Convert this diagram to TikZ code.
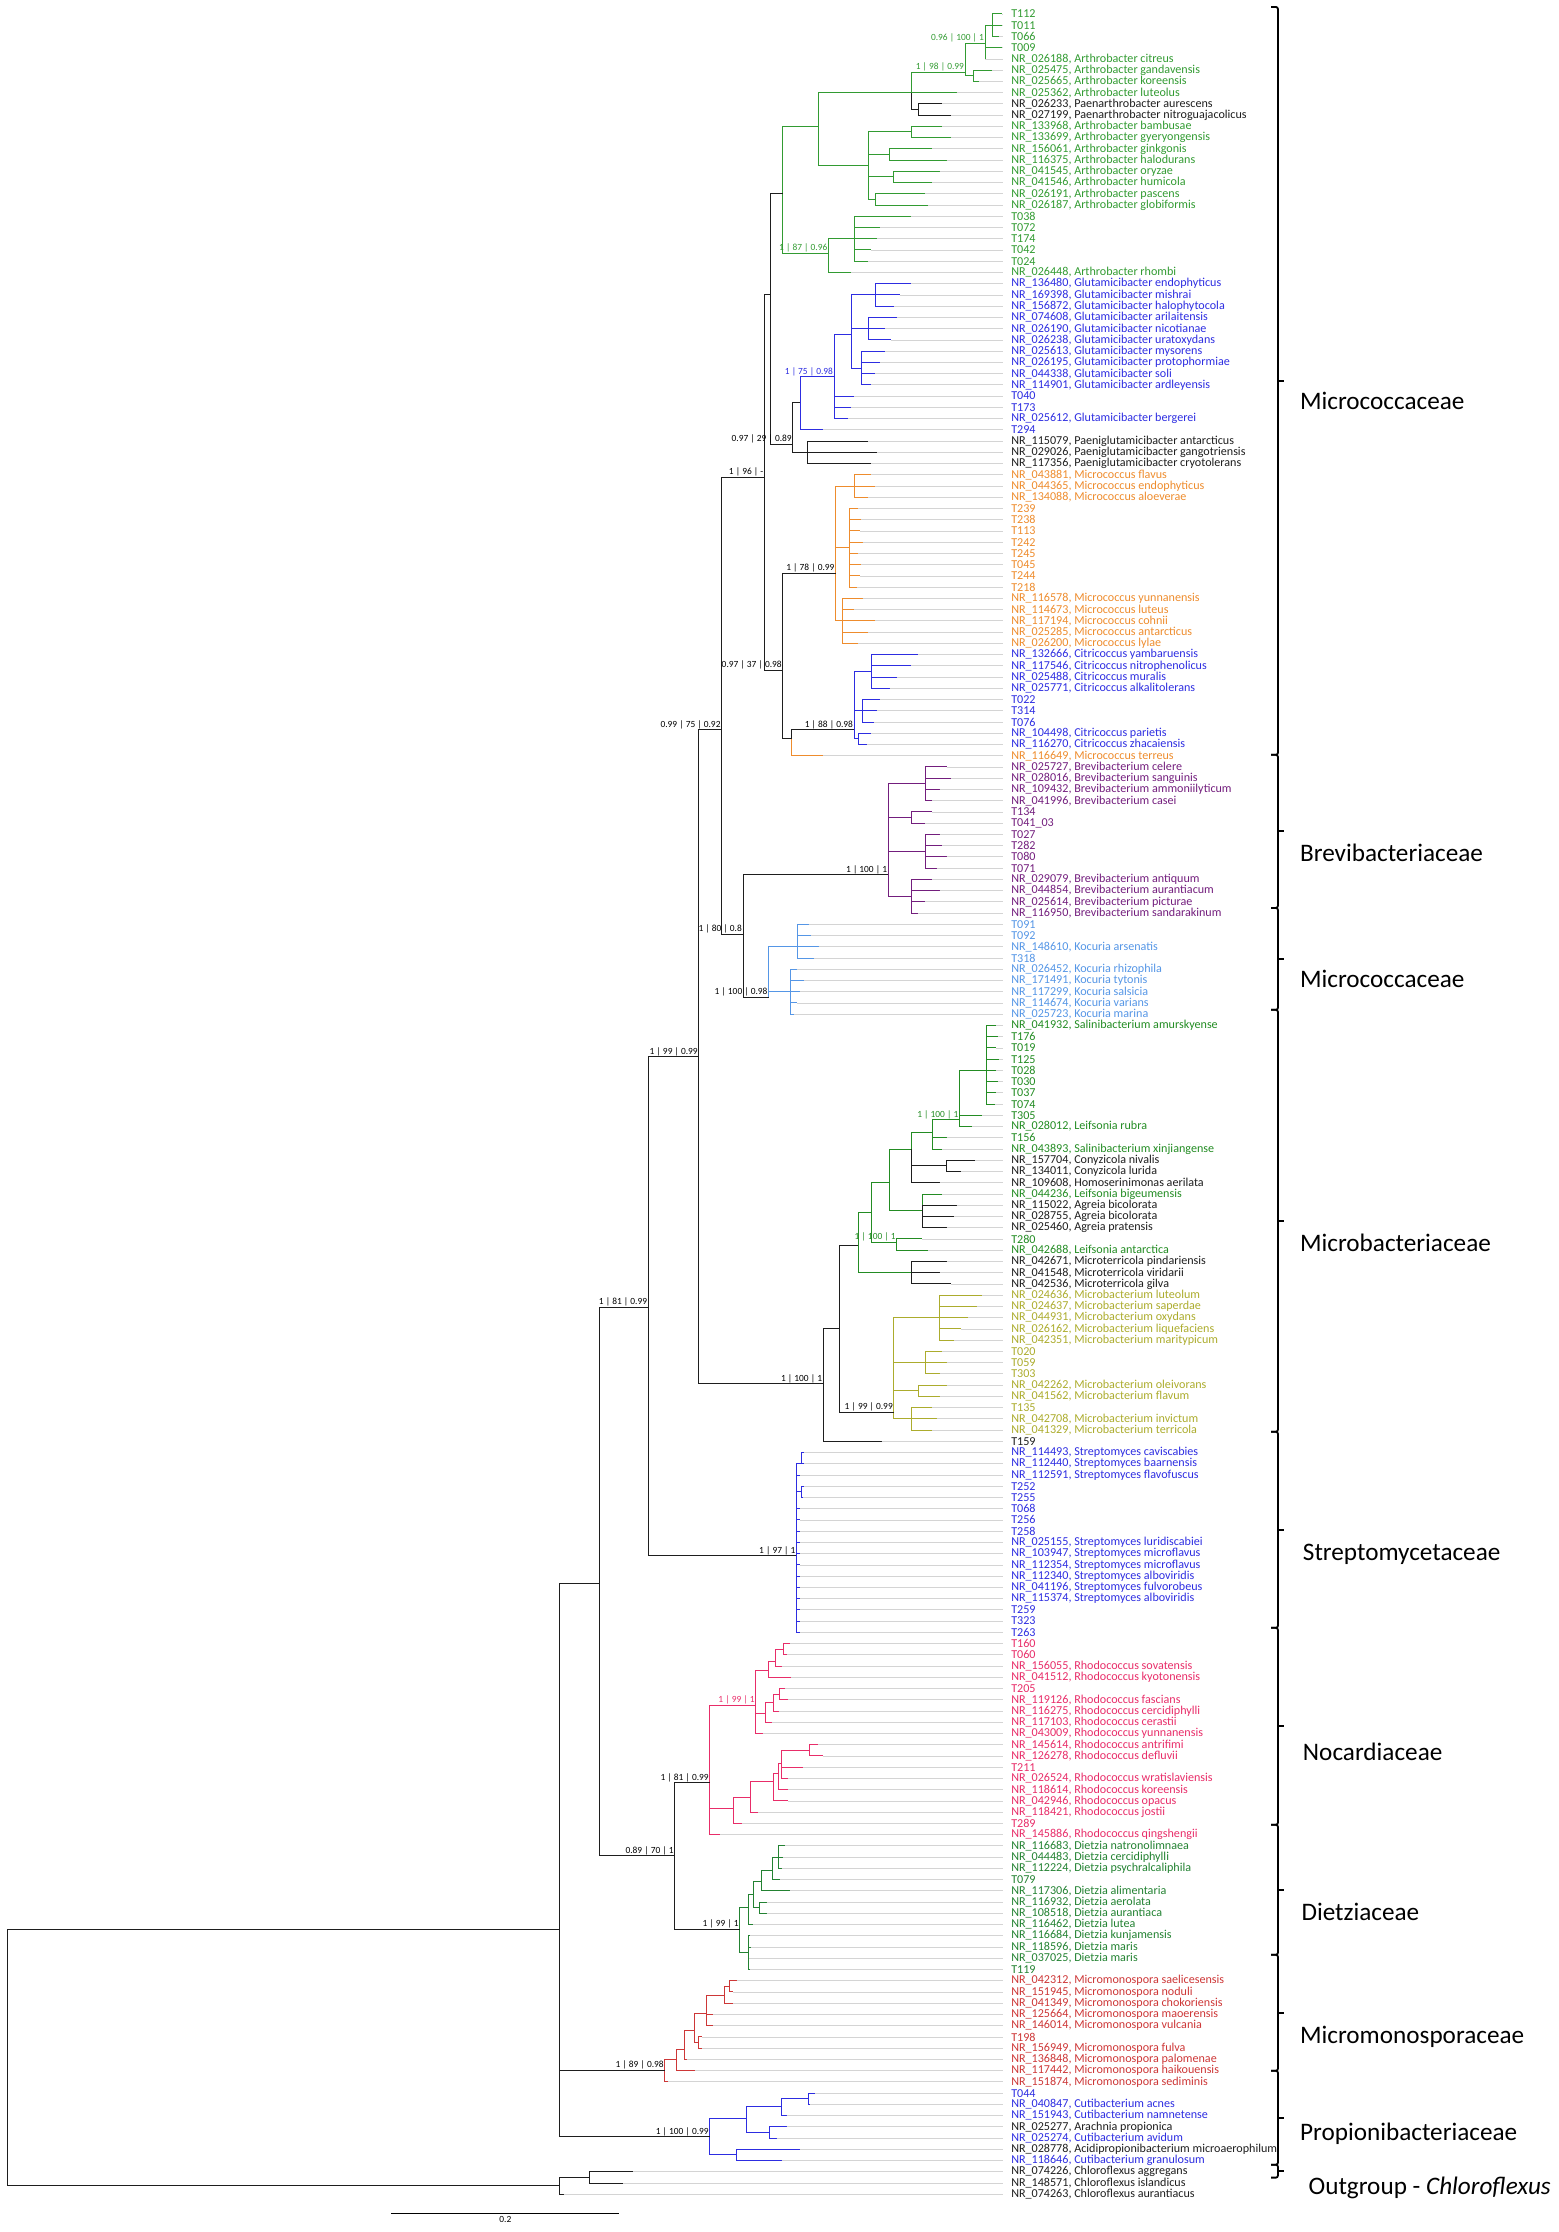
\documentclass[tikz,border=0pt]{standalone}
\usepackage{fontspec}
\setmainfont{Carlito}
\usepackage{tikz}
\usetikzlibrary{calc}

\definecolor{cArth}{RGB}{50,155,50}
\definecolor{cBlue}{RGB}{45,45,225}
\definecolor{cMicro}{RGB}{238,140,45}
\definecolor{cBrevi}{RGB}{115,30,125}
\definecolor{cKocu}{RGB}{85,150,230}
\definecolor{cLeif}{RGB}{35,140,35}
\definecolor{cMbac}{RGB}{172,172,45}
\definecolor{cRhodo}{RGB}{232,45,105}
\definecolor{cDietz}{RGB}{35,130,50}
\definecolor{cMmono}{RGB}{205,55,55}
\definecolor{cBlk}{RGB}{30,30,30}

\tikzset{
  br/.style={line width=0.5pt},
  guide/.style={line width=0.4pt, draw=black!17},
  leaf/.style={anchor=west, inner xsep=4pt, inner ysep=0pt, font=\fontsize{6.05}{6}\selectfont},
  boot/.style={anchor=south east, inner sep=0.4pt, font=\fontsize{4.7}{5}\selectfont},
  fam/.style={anchor=west, inner sep=0pt, font=\fontsize{12.6}{14}\selectfont},
  fbrace/.style={line width=0.9pt, rounded corners=1pt},
}

% family bracket: start row, end row
\newcommand{\fambrace}[2]{%
  \draw[fbrace] (893,#1) -- (897.7,#1) -- (897.7,#2) -- (893,#2);
  \draw[fbrace] (897.7,{(#1+#2)/2}) -- (902,{(#1+#2)/2});}

\begin{document}
\begin{tikzpicture}[x=0.71185pt, y=-5.6199pt]
\useasboundingbox (0,-0.245) rectangle (1095,198.36);

% leaf labels
\foreach \i/\c/\t in {
 1/cArth/T112, 2/cArth/T011, 3/cArth/T066, 4/cArth/T009,
 5/cArth/{NR\_026188, Arthrobacter citreus},
 6/cArth/{NR\_025475, Arthrobacter gandavensis},
 7/cArth/{NR\_025665, Arthrobacter koreensis},
 8/cArth/{NR\_025362, Arthrobacter luteolus},
 9/cBlk/{NR\_026233, Paenarthrobacter aurescens},
 10/cBlk/{NR\_027199, Paenarthrobacter nitroguajacolicus},
 11/cArth/{NR\_133968, Arthrobacter bambusae},
 12/cArth/{NR\_133699, Arthrobacter gyeryongensis},
 13/cArth/{NR\_156061, Arthrobacter ginkgonis},
 14/cArth/{NR\_116375, Arthrobacter halodurans},
 15/cArth/{NR\_041545, Arthrobacter oryzae},
 16/cArth/{NR\_041546, Arthrobacter humicola},
 17/cArth/{NR\_026191, Arthrobacter pascens},
 18/cArth/{NR\_026187, Arthrobacter globiformis},
 19/cArth/T038, 20/cArth/T072, 21/cArth/T174, 22/cArth/T042, 23/cArth/T024,
 24/cArth/{NR\_026448, Arthrobacter rhombi},
 25/cBlue/{NR\_136480, Glutamicibacter endophyticus},
 26/cBlue/{NR\_169398, Glutamicibacter mishrai},
 27/cBlue/{NR\_156872, Glutamicibacter halophytocola},
 28/cBlue/{NR\_074608, Glutamicibacter arilaitensis},
 29/cBlue/{NR\_026190, Glutamicibacter nicotianae},
 30/cBlue/{NR\_026238, Glutamicibacter uratoxydans},
 31/cBlue/{NR\_025613, Glutamicibacter mysorens},
 32/cBlue/{NR\_026195, Glutamicibacter protophormiae},
 33/cBlue/{NR\_044338, Glutamicibacter soli},
 34/cBlue/{NR\_114901, Glutamicibacter ardleyensis},
 35/cBlue/T040, 36/cBlue/T173,
 37/cBlue/{NR\_025612, Glutamicibacter bergerei},
 38/cBlue/T294,
 39/cBlk/{NR\_115079, Paeniglutamicibacter antarcticus},
 40/cBlk/{NR\_029026, Paeniglutamicibacter gangotriensis},
 41/cBlk/{NR\_117356, Paeniglutamicibacter cryotolerans},
 42/cMicro/{NR\_043881, Micrococcus flavus},
 43/cMicro/{NR\_044365, Micrococcus endophyticus},
 44/cMicro/{NR\_134088, Micrococcus aloeverae},
 45/cMicro/T239, 46/cMicro/T238, 47/cMicro/T113, 48/cMicro/T242,
 49/cMicro/T245, 50/cMicro/T045, 51/cMicro/T244, 52/cMicro/T218,
 53/cMicro/{NR\_116578, Micrococcus yunnanensis},
 54/cMicro/{NR\_114673, Micrococcus luteus},
 55/cMicro/{NR\_117194, Micrococcus cohnii},
 56/cMicro/{NR\_025285, Micrococcus antarcticus},
 57/cMicro/{NR\_026200, Micrococcus lylae},
 58/cBlue/{NR\_132666, Citricoccus yambaruensis},
 59/cBlue/{NR\_117546, Citricoccus nitrophenolicus},
 60/cBlue/{NR\_025488, Citricoccus muralis},
 61/cBlue/{NR\_025771, Citricoccus alkalitolerans},
 62/cBlue/T022, 63/cBlue/T314, 64/cBlue/T076,
 65/cBlue/{NR\_104498, Citricoccus parietis},
 66/cBlue/{NR\_116270, Citricoccus zhacaiensis},
 67/cMicro/{NR\_116649, Micrococcus terreus},
 68/cBrevi/{NR\_025727, Brevibacterium celere},
 69/cBrevi/{NR\_028016, Brevibacterium sanguinis},
 70/cBrevi/{NR\_109432, Brevibacterium ammoniilyticum},
 71/cBrevi/{NR\_041996, Brevibacterium casei},
 72/cBrevi/T134, 73/cBrevi/T041\_03, 74/cBrevi/T027, 75/cBrevi/T282,
 76/cBrevi/T080, 77/cBrevi/T071,
 78/cBrevi/{NR\_029079, Brevibacterium antiquum},
 79/cBrevi/{NR\_044854, Brevibacterium aurantiacum},
 80/cBrevi/{NR\_025614, Brevibacterium picturae},
 81/cBrevi/{NR\_116950, Brevibacterium sandarakinum},
 82/cKocu/T091, 83/cKocu/T092,
 84/cKocu/{NR\_148610, Kocuria arsenatis},
 85/cKocu/T318,
 86/cKocu/{NR\_026452, Kocuria rhizophila},
 87/cKocu/{NR\_171491, Kocuria tytonis},
 88/cKocu/{NR\_117299, Kocuria salsicia},
 89/cKocu/{NR\_114674, Kocuria varians},
 90/cKocu/{NR\_025723, Kocuria marina},
 91/cLeif/{NR\_041932, Salinibacterium amurskyense},
 92/cLeif/T176, 93/cLeif/T019, 94/cLeif/T125, 95/cLeif/T028,
 96/cLeif/T030, 97/cLeif/T037, 98/cLeif/T074, 99/cLeif/T305,
 100/cLeif/{NR\_028012, Leifsonia rubra},
 101/cLeif/T156,
 102/cLeif/{NR\_043893, Salinibacterium xinjiangense},
 103/cBlk/{NR\_157704, Conyzicola nivalis},
 104/cBlk/{NR\_134011, Conyzicola lurida},
 105/cBlk/{NR\_109608, Homoserinimonas aerilata},
 106/cLeif/{NR\_044236, Leifsonia bigeumensis},
 107/cBlk/{NR\_115022, Agreia bicolorata},
 108/cBlk/{NR\_028755, Agreia bicolorata},
 109/cBlk/{NR\_025460, Agreia pratensis},
 110/cLeif/T280,
 111/cLeif/{NR\_042688, Leifsonia antarctica},
 112/cBlk/{NR\_042671, Microterricola pindariensis},
 113/cBlk/{NR\_041548, Microterricola viridarii},
 114/cBlk/{NR\_042536, Microterricola gilva},
 115/cMbac/{NR\_024636, Microbacterium luteolum},
 116/cMbac/{NR\_024637, Microbacterium saperdae},
 117/cMbac/{NR\_044931, Microbacterium oxydans},
 118/cMbac/{NR\_026162, Microbacterium liquefaciens},
 119/cMbac/{NR\_042351, Microbacterium maritypicum},
 120/cMbac/T020, 121/cMbac/T059, 122/cMbac/T303,
 123/cMbac/{NR\_042262, Microbacterium oleivorans},
 124/cMbac/{NR\_041562, Microbacterium flavum},
 125/cMbac/T135,
 126/cMbac/{NR\_042708, Microbacterium invictum},
 127/cMbac/{NR\_041329, Microbacterium terricola},
 128/cBlk/T159,
 129/cBlue/{NR\_114493, Streptomyces caviscabies},
 130/cBlue/{NR\_112440, Streptomyces baarnensis},
 131/cBlue/{NR\_112591, Streptomyces flavofuscus},
 132/cBlue/T252, 133/cBlue/T255, 134/cBlue/T068, 135/cBlue/T256, 136/cBlue/T258,
 137/cBlue/{NR\_025155, Streptomyces luridiscabiei},
 138/cBlue/{NR\_103947, Streptomyces microflavus},
 139/cBlue/{NR\_112354, Streptomyces microflavus},
 140/cBlue/{NR\_112340, Streptomyces alboviridis},
 141/cBlue/{NR\_041196, Streptomyces fulvorobeus},
 142/cBlue/{NR\_115374, Streptomyces alboviridis},
 143/cBlue/T259, 144/cBlue/T323, 145/cBlue/T263,
 146/cRhodo/T160, 147/cRhodo/T060,
 148/cRhodo/{NR\_156055, Rhodococcus sovatensis},
 149/cRhodo/{NR\_041512, Rhodococcus kyotonensis},
 150/cRhodo/T205,
 151/cRhodo/{NR\_119126, Rhodococcus fascians},
 152/cRhodo/{NR\_116275, Rhodococcus cercidiphylli},
 153/cRhodo/{NR\_117103, Rhodococcus cerastii},
 154/cRhodo/{NR\_043009, Rhodococcus yunnanensis},
 155/cRhodo/{NR\_145614, Rhodococcus antrifimi},
 156/cRhodo/{NR\_126278, Rhodococcus defluvii},
 157/cRhodo/T211,
 158/cRhodo/{NR\_026524, Rhodococcus wratislaviensis},
 159/cRhodo/{NR\_118614, Rhodococcus koreensis},
 160/cRhodo/{NR\_042946, Rhodococcus opacus},
 161/cRhodo/{NR\_118421, Rhodococcus jostii},
 162/cRhodo/T289,
 163/cRhodo/{NR\_145886, Rhodococcus qingshengii},
 164/cDietz/{NR\_116683, Dietzia natronolimnaea},
 165/cDietz/{NR\_044483, Dietzia cercidiphylli},
 166/cDietz/{NR\_112224, Dietzia psychralcaliphila},
 167/cDietz/T079,
 168/cDietz/{NR\_117306, Dietzia alimentaria},
 169/cDietz/{NR\_116932, Dietzia aerolata},
 170/cDietz/{NR\_108518, Dietzia aurantiaca},
 171/cDietz/{NR\_116462, Dietzia lutea},
 172/cDietz/{NR\_116684, Dietzia kunjamensis},
 173/cDietz/{NR\_118596, Dietzia maris},
 174/cDietz/{NR\_037025, Dietzia maris},
 175/cDietz/T119,
 176/cMmono/{NR\_042312, Micromonospora saelicesensis},
 177/cMmono/{NR\_151945, Micromonospora noduli},
 178/cMmono/{NR\_041349, Micromonospora chokoriensis},
 179/cMmono/{NR\_125664, Micromonospora maoerensis},
 180/cMmono/{NR\_146014, Micromonospora vulcania},
 181/cMmono/T198,
 182/cMmono/{NR\_156949, Micromonospora fulva},
 183/cMmono/{NR\_136848, Micromonospora palomenae},
 184/cMmono/{NR\_117442, Micromonospora haikouensis},
 185/cMmono/{NR\_151874, Micromonospora sediminis},
 186/cBlue/T044,
 187/cBlue/{NR\_040847, Cutibacterium acnes},
 188/cBlue/{NR\_151943, Cutibacterium namnetense},
 189/cBlk/{NR\_025277, Arachnia propionica},
 190/cBlue/{NR\_025274, Cutibacterium avidum},
 191/cBlk/{NR\_028778, Acidipropionibacterium microaerophilum},
 192/cBlue/{NR\_118646, Cutibacterium granulosum},
 193/cBlk/{NR\_074226, Chloroflexus aggregans},
 194/cBlk/{NR\_148571, Chloroflexus islandicus},
 195/cBlk/{NR\_074263, Chloroflexus aurantiacus}}
  \node[leaf,text=\c] (t\i) at (704.5,\i) {\t};

% internal nodes (x, row)
\coordinate (a1a) at (697,2);    \coordinate (a1) at (692,3.6);
\coordinate (gk) at (684,6.5);   \coordinate (A1b) at (678,6.2);
\coordinate (pa) at (645,9.5);   \coordinate (A1a) at (640,8);
\coordinate (p11) at (640,11.5); \coordinate (p13) at (625,13.5);
\coordinate (p15) at (628,15.5); \coordinate (p17) at (615,17.5);
\coordinate (A1d) at (610,14.5); \coordinate (A1c) at (575,11);
\coordinate (tc) at (600,21);    \coordinate (A2) at (582,22.3);
\coordinate (A0) at (550,17);
\coordinate (g1) at (615,26);    \coordinate (g2) at (610,29);
\coordinate (g3) at (605,32.5);  \coordinate (G1a) at (598,29.5);
\coordinate (G1) at (586,33.3);  \coordinate (G2) at (562,35.6);
\coordinate (G3) at (567,40);    \coordinate (G0) at (557,39.3);
\coordinate (X) at (541,26);
\coordinate (m1) at (600,43);    \coordinate (m2) at (597,48.5);
\coordinate (m3) at (592,55);    \coordinate (M0) at (587,50.8);
\coordinate (c1) at (612,59.5);  \coordinate (c2) at (606,63);
\coordinate (c3) at (603,65.5);  \coordinate (C0) at (600,64.7);
\coordinate (Ct) at (556,65.5);  \coordinate (Y) at (550,59.4);
\coordinate (n6) at (537,42.2);
\coordinate (b1) at (650,69.5);  \coordinate (b2) at (640,72.5);
\coordinate (b3) at (650,75.5);  \coordinate (b4) at (640,79.5);
\coordinate (B0) at (624,77.6);
\coordinate (k1) at (560,84);    \coordinate (k2) at (555,88);
\coordinate (K0) at (540,88.5);
\coordinate (n12) at (522,82.9); \coordinate (n9) at (507,64.7);
\coordinate (s1) at (693,95);    \coordinate (s2) at (674,99.4);
\coordinate (s3) at (655,100.5); \coordinate (cz) at (665,103.5);
\coordinate (s4) at (640,102);   \coordinate (ag) at (648,107.5);
\coordinate (MG3) at (625,105);  \coordinate (lf) at (630,110.3);
\coordinate (MG2) at (612,107.6);\coordinate (mt) at (640,113);
\coordinate (MG1) at (603,110.6);
\coordinate (mb1) at (660,117);  \coordinate (mb2) at (650,121);
\coordinate (mb3) at (645,123.5);\coordinate (mb4) at (640,126);
\coordinate (MB0) at (628,125.4);\coordinate (W) at (589.5,118);
\coordinate (MF) at (578.3,122.9);
\coordinate (n14) at (491,93.8);
\coordinate (sA) at (563,130);   \coordinate (sB) at (563,132.5);
\coordinate (S0) at (559.6,138.2);
\coordinate (n17) at (455.4,116.1);
\coordinate (rA) at (550.2,146.5); \coordinate (rB) at (545.1,147.6);
\coordinate (rC) at (539.7,148.4); \coordinate (rO) at (547.9,150.5);
\coordinate (rN) at (543.2,151.2); \coordinate (rM) at (538,152.2);
\coordinate (R1) at (531,151.5);
\coordinate (r4) at (568.5,155.5); \coordinate (r9) at (549.1,156.7);
\coordinate (r8b) at (546.7,157.6);\coordinate (r8) at (543.2,158.3);
\coordinate (r7) at (527.3,159.7); \coordinate (r6) at (515.1,160.7);
\coordinate (R0) at (498.7,158.4);
\coordinate (d1) at (546.7,165);   \coordinate (d2) at (542.7,166.2);
\coordinate (d3) at (535,167.2);   \coordinate (d4) at (533.8,169.5);
\coordinate (d5) at (529.1,168.3); \coordinate (d6) at (525.6,169.5);
\coordinate (d7) at (525.6,173.5); \coordinate (D0) at (519.8,171.4);
\coordinate (ND) at (474.1,164.9);
\coordinate (mmA) at (512.7,176.5);\coordinate (mmB) at (509.2,177.3);
\coordinate (mmC) at (496.4,178.9);\coordinate (mmD) at (490.5,181.5);
\coordinate (mmE) at (488.2,180.4);\coordinate (mmF) at (481.1,182.1);
\coordinate (mmG) at (475.3,183);  \coordinate (Mm0) at (467.1,184);
\coordinate (p1a) at (567.7,186.5);\coordinate (p1) at (549.1,187.2);
\coordinate (p2) at (540.4,189.5); \coordinate (p3) at (524.4,188.3);
\coordinate (p4) at (517.4,191.5); \coordinate (P0) at (498.7,189.9);
\coordinate (Q) at (421,140.65);   \coordinate (I) at (393.3,171.4);
\coordinate (O1) at (414.4,193.5); \coordinate (O) at (393.3,194.2);
\coordinate (root) at (5,182.8);

% leaves: tips hang from their parent node
\foreach \i/\x in {1/704,2/704,3/702} \draw[br,cArth] (a1a) |- (\x,\i) coordinate (l\i);
\foreach \i/\x in {4/704,5/692} \draw[br,cArth] (a1) |- (\x,\i) coordinate (l\i);
\foreach \i/\x in {6/697,7/688} \draw[br,cArth] (gk) |- (\x,\i) coordinate (l\i);
\foreach \i/\x in {8/672} \draw[br,cArth] (A1a) |- (\x,\i) coordinate (l\i);
\foreach \i/\x in {9/662,10/668} \draw[br,cBlk] (pa) |- (\x,\i) coordinate (l\i);
\foreach \i/\x in {11/662,12/668} \draw[br,cArth] (p11) |- (\x,\i) coordinate (l\i);
\foreach \i/\x in {13/655,14/665} \draw[br,cArth] (p13) |- (\x,\i) coordinate (l\i);
\foreach \i/\x in {15/660,16/655} \draw[br,cArth] (p15) |- (\x,\i) coordinate (l\i);
\foreach \i/\x in {17/650,18/652} \draw[br,cArth] (p17) |- (\x,\i) coordinate (l\i);
\foreach \i/\x in {19/640,20/618,21/616,22/612,23/610} \draw[br,cArth] (tc) |- (\x,\i) coordinate (l\i);
\foreach \i/\x in {24/598} \draw[br,cArth] (A2) |- (\x,\i) coordinate (l\i);
\foreach \i/\x in {25/640,26/632,27/628} \draw[br,cBlue] (g1) |- (\x,\i) coordinate (l\i);
\foreach \i/\x in {28/630,29/622,30/626} \draw[br,cBlue] (g2) |- (\x,\i) coordinate (l\i);
\foreach \i/\x in {31/622,32/618,33/615,34/612} \draw[br,cBlue] (g3) |- (\x,\i) coordinate (l\i);
\foreach \i/\x in {35/600,36/598,37/596} \draw[br,cBlue] (G1) |- (\x,\i) coordinate (l\i);
\foreach \i/\x in {38/578} \draw[br,cBlue] (G2) |- (\x,\i) coordinate (l\i);
\foreach \i/\x in {39/610,40/616,41/612} \draw[br,cBlk] (G3) |- (\x,\i) coordinate (l\i);
\foreach \i/\x in {42/612,43/615,44/610} \draw[br,cMicro] (m1) |- (\x,\i) coordinate (l\i);
\foreach \i/\x in {45/603,46/605,47/604,48/606,49/603,50/605,51/604,52/602} \draw[br,cMicro] (m2) |- (\x,\i) coordinate (l\i);
\foreach \i/\x in {53/606,54/600,55/615,56/610,57/603} \draw[br,cMicro] (m3) |- (\x,\i) coordinate (l\i);
\foreach \i/\x in {58/645,59/640,60/630,61/625} \draw[br,cBlue] (c1) |- (\x,\i) coordinate (l\i);
\foreach \i/\x in {62/618,63/616,64/614} \draw[br,cBlue] (c2) |- (\x,\i) coordinate (l\i);
\foreach \i/\x in {65/612,66/609} \draw[br,cBlue] (c3) |- (\x,\i) coordinate (l\i);
\foreach \i/\x in {67/578} \draw[br,cMicro] (Ct) |- (\x,\i) coordinate (l\i);
\foreach \i/\x in {68/665,69/668,70/660,71/655} \draw[br,cBrevi] (b1) |- (\x,\i) coordinate (l\i);
\foreach \i/\x in {72/655,73/650} \draw[br,cBrevi] (b2) |- (\x,\i) coordinate (l\i);
\foreach \i/\x in {74/660,75/662,76/665,77/658} \draw[br,cBrevi] (b3) |- (\x,\i) coordinate (l\i);
\foreach \i/\x in {78/655,79/660,80/650,81/645} \draw[br,cBrevi] (b4) |- (\x,\i) coordinate (l\i);
\foreach \i/\x in {82/568,83/570,84/575,85/572} \draw[br,cKocu] (k1) |- (\x,\i) coordinate (l\i);
\foreach \i/\x in {86/560,87/565,88/562,89/560,90/558} \draw[br,cKocu] (k2) |- (\x,\i) coordinate (l\i);
\foreach \i/\x in {91/700,92/701,93/700,94/702,95/700,96/701,97/700,98/699} \draw[br,cLeif] (s1) |- (\x,\i) coordinate (l\i);
\foreach \i/\x in {99/690,100/683} \draw[br,cLeif] (s2) |- (\x,\i) coordinate (l\i);
\foreach \i/\x in {101/665,102/662} \draw[br,cLeif] (s3) |- (\x,\i) coordinate (l\i);
\foreach \i/\x in {103/685,104/675} \draw[br,cBlk] (cz) |- (\x,\i) coordinate (l\i);
\foreach \i/\x in {105/660} \draw[br,cBlk] (s4) |- (\x,\i) coordinate (l\i);
\foreach \i/\x in {106/662} \draw[br,cLeif] (ag) |- (\x,\i) coordinate (l\i);
\foreach \i/\x in {107/672,108/670,109/665} \draw[br,cBlk] (ag) |- (\x,\i) coordinate (l\i);
\foreach \i/\x in {110/648,111/652} \draw[br,cLeif] (lf) |- (\x,\i) coordinate (l\i);
\foreach \i/\x in {112/665,113/660,114/668} \draw[br,cBlk] (mt) |- (\x,\i) coordinate (l\i);
\foreach \i/\x in {115/690,116/686,117/680,118/675,119/670} \draw[br,cMbac] (mb1) |- (\x,\i) coordinate (l\i);
\foreach \i/\x in {120/662,121/665,122/660} \draw[br,cMbac] (mb2) |- (\x,\i) coordinate (l\i);
\foreach \i/\x in {123/665,124/660} \draw[br,cMbac] (mb3) |- (\x,\i) coordinate (l\i);
\foreach \i/\x in {125/655,126/658,127/655} \draw[br,cMbac] (mb4) |- (\x,\i) coordinate (l\i);
\foreach \i/\x in {128/619.3} \draw[br,cBlk] (MF) |- (\x,\i) coordinate (l\i);
\foreach \i/\x in {129/565,130/565} \draw[br,cBlue] (sA) |- (\x,\i) coordinate (l\i);
\foreach \i/\x in {132/565,133/564} \draw[br,cBlue] (sB) |- (\x,\i) coordinate (l\i);
\foreach \i/\x in {131/562,134/562,135/562,136/562,137/562,138/562,139/562,140/562,141/562,142/562,143/562,144/562,145/562} \draw[br,cBlue] (S0) |- (\x,\i) coordinate (l\i);
\foreach \i/\x in {146/555,147/553} \draw[br,cRhodo] (rA) |- (\x,\i) coordinate (l\i);
\foreach \i/\x in {148/549} \draw[br,cRhodo] (rB) |- (\x,\i) coordinate (l\i);
\foreach \i/\x in {149/556} \draw[br,cRhodo] (rC) |- (\x,\i) coordinate (l\i);
\foreach \i/\x in {150/551.4,151/553.7} \draw[br,cRhodo] (rO) |- (\x,\i) coordinate (l\i);
\foreach \i/\x in {152/547} \draw[br,cRhodo] (rN) |- (\x,\i) coordinate (l\i);
\foreach \i/\x in {153/542} \draw[br,cRhodo] (rM) |- (\x,\i) coordinate (l\i);
\foreach \i/\x in {154/535.7} \draw[br,cRhodo] (R1) |- (\x,\i) coordinate (l\i);
\foreach \i/\x in {155/574.8,156/578.3} \draw[br,cRhodo] (r4) |- (\x,\i) coordinate (l\i);
\foreach \i/\x in {157/564.3,158/553.7} \draw[br,cRhodo] (r9) |- (\x,\i) coordinate (l\i);
\foreach \i/\x in {159/553.7} \draw[br,cRhodo] (r8b) |- (\x,\i) coordinate (l\i);
\foreach \i/\x in {160/553.7} \draw[br,cRhodo] (r8) |- (\x,\i) coordinate (l\i);
\foreach \i/\x in {161/532.6} \draw[br,cRhodo] (r7) |- (\x,\i) coordinate (l\i);
\foreach \i/\x in {162/521} \draw[br,cRhodo] (r6) |- (\x,\i) coordinate (l\i);
\foreach \i/\x in {163/505.7} \draw[br,cRhodo] (R0) |- (\x,\i) coordinate (l\i);
\foreach \i/\x in {164/551.4,165/550,166/549} \draw[br,cDietz] (d1) |- (\x,\i) coordinate (l\i);
\foreach \i/\x in {167/548} \draw[br,cDietz] (d2) |- (\x,\i) coordinate (l\i);
\foreach \i/\x in {168/554.9} \draw[br,cDietz] (d3) |- (\x,\i) coordinate (l\i);
\foreach \i/\x in {169/538.5,170/538.5} \draw[br,cDietz] (d4) |- (\x,\i) coordinate (l\i);
\foreach \i/\x in {171/529.1} \draw[br,cDietz] (d6) |- (\x,\i) coordinate (l\i);
\foreach \i/\x in {172/527,173/527.3,174/526.5,175/527} \draw[br,cDietz] (d7) |- (\x,\i) coordinate (l\i);
\foreach \i/\x in {176/517.4,177/515} \draw[br,cMmono] (mmA) |- (\x,\i) coordinate (l\i);
\foreach \i/\x in {178/515} \draw[br,cMmono] (mmB) |- (\x,\i) coordinate (l\i);
\foreach \i/\x in {179/501,180/501} \draw[br,cMmono] (mmC) |- (\x,\i) coordinate (l\i);
\foreach \i/\x in {181/493,182/493} \draw[br,cMmono] (mmD) |- (\x,\i) coordinate (l\i);
\foreach \i/\x in {183/482.3} \draw[br,cMmono] (mmF) |- (\x,\i) coordinate (l\i);
\foreach \i/\x in {184/488.2} \draw[br,cMmono] (mmG) |- (\x,\i) coordinate (l\i);
\foreach \i/\x in {185/469.5} \draw[br,cMmono] (Mm0) |- (\x,\i) coordinate (l\i);
\foreach \i/\x in {186/572.4,187/568.9} \draw[br,cBlue] (p1a) |- (\x,\i) coordinate (l\i);
\foreach \i/\x in {188/552.5} \draw[br,cBlue] (p1) |- (\x,\i) coordinate (l\i);
\foreach \i/\x in {189/552.5,190/545.6} \draw[br,cBlue] (p2) |- (\x,\i) coordinate (l\i);
\foreach \i/\x in {191/561.9,192/549.1} \draw[br,cBlue] (p4) |- (\x,\i) coordinate (l\i);
\foreach \i/\x in {193/444.9,194/437.8} \draw[br,cBlk] (O1) |- (\x,\i) coordinate (l\i);
\foreach \i/\x in {195/396} \draw[br,cBlk] (O) |- (\x,\i) coordinate (l\i);

% inner branches
\draw[br,cArth] (a1) |- (a1a) (A1b) |- (a1) (A1b) |- (gk) (A1a) |- (A1b)
  (A1d) |- (p11) (A1d) |- (p13) (A1d) |- (p15) (A1d) |- (p17)
  (A1c) |- (A1a) (A1c) |- (A1d) (A2) |- (tc) (A0) |- (A1c) (A0) |- (A2);
\draw[br,cBlk] (A1a) |- (pa);
\draw[br,cBlue] (G1a) |- (g1) (G1a) |- (g2) (G1a) |- (g3) (G1) |- (G1a) (G2) |- (G1);
\draw[br,cBlk] (G0) |- (G2) (G0) |- (G3) (X) |- (A0) (X) |- (G0);
\draw[br,cMicro] (M0) |- (m1) (M0) |- (m2) (M0) |- (m3);
\draw[br,cBlue] (C0) |- (c1) (C0) |- (c2) (C0) |- (c3);
\draw[br,cBlk] (Ct) |- (C0) (Y) |- (M0) (Y) |- (Ct) (n6) |- (X) (n6) |- (Y);
\draw[br,cBrevi] (B0) |- (b1) (B0) |- (b2) (B0) |- (b3) (B0) |- (b4);
\draw[br,cKocu] (K0) |- (k1) (K0) |- (k2);
\draw[br,cBlk] (n12) |- (B0) (n12) |- (K0) (n9) |- (n6) (n9) |- (n12);
\draw[br,cLeif] (s2) |- (s1) (s3) |- (s2) (s4) |- (s3) (MG3) |- (s4) (MG3) |- (ag)
  (MG2) |- (MG3) (MG2) |- (lf) (MG1) |- (MG2) (MG1) |- (mt);
\draw[br,cBlk] (s4) |- (cz);
\draw[br,cMbac] (MB0) |- (mb1) (MB0) |- (mb2) (MB0) |- (mb3) (MB0) |- (mb4);
\draw[br,cBlk] (W) |- (MG1) (W) |- (MB0) (MF) |- (W)
  (n14) |- (n9) (n14) |- (MF) (n17) |- (n14) (n17) |- (S0);
\draw[br,cBlue] (S0) |- (sA) (S0) |- (sB);
\draw[br,cRhodo] (rB) |- (rA) (rC) |- (rB) (rN) |- (rO) (rM) |- (rN)
  (R1) |- (rC) (R1) |- (rM) (r9) |- (r4) (r8b) |- (r9) (r8) |- (r8b)
  (r7) |- (r8) (r6) |- (r7) (R0) |- (R1) (R0) |- (r6);
\draw[br,cDietz] (d2) |- (d1) (d3) |- (d2) (d5) |- (d3) (d5) |- (d4)
  (d6) |- (d5) (D0) |- (d6) (D0) |- (d7);
\draw[br,cMmono] (mmB) |- (mmA) (mmC) |- (mmB) (mmE) |- (mmC) (mmE) |- (mmD)
  (mmF) |- (mmE) (mmG) |- (mmF) (Mm0) |- (mmG);
\draw[br,cBlue] (p1) |- (p1a) (p3) |- (p1) (p3) |- (p2) (P0) |- (p3) (P0) |- (p4);
\draw[br,cBlk] (ND) |- (R0) (ND) |- (D0) (Q) |- (n17) (Q) |- (ND)
  (I) |- (Q) (I) |- (Mm0) (I) |- (P0) (O) |- (O1)
  (root) |- (I) (root) |- (O);

% guides out to the names
\foreach \i in {1,...,195} \draw[guide] (l\i) -- (t\i.west);

% support values
\node[boot,text=cArth] at (a1) {0.96 | 100 | 1};
\node[boot,text=cArth] at (A1b) {1 | 98 | 0.99};
\node[boot,text=cArth] at (A2) {1 | 87 | 0.96};
\node[boot,text=cBlue] at (G1) {1 | 75 | 0.98};
\node[boot] at (G0) {0.97 | 29 | 0.89};
\node[boot] at (n6) {1 | 96 | -};
\node[boot] at (M0) {1 | 78 | 0.99};
\node[boot] at (Y) {0.97 | 37 | 0.98};
\node[boot] at (n9) {0.99 | 75 | 0.92};
\node[boot] at (C0) {1 | 88 | 0.98};
\node[boot] at (B0) {1 | 100 | 1};
\node[boot] at (n12) {1 | 80 | 0.8};
\node[boot] at (K0) {1 | 100 | 0.98};
\node[boot] at (n14) {1 | 99 | 0.99};
\node[boot,text=cLeif] at (s2) {1 | 100 | 1};
\node[boot,text=cLeif] at (lf) {1 | 100 | 1};
\node[boot] at (n17) {1 | 81 | 0.99};
\node[boot] at (MF) {1 | 100 | 1};
\node[boot] at (MB0) {1 | 99 | 0.99};
\node[boot] at (S0) {1 | 97 | 1};
\node[boot,text=cRhodo] at (R1) {1 | 99 | 1};
\node[boot] at (R0) {1 | 81 | 0.99};
\node[boot] at (ND) {0.89 | 70 | 1};
\node[boot] at (D0) {1 | 99 | 1};
\node[boot] at (Mm0) {1 | 89 | 0.98};
\node[boot] at (P0) {1 | 100 | 0.99};

% families
\fambrace{0.376}{66.92}
\fambrace{66.92}{80.54}
\fambrace{80.54}{89.61}
\fambrace{89.61}{127.15}
\fambrace{127.15}{144.6}
\fambrace{144.6}{162.12}
\fambrace{162.12}{173.69}
\fambrace{173.69}{184.01}
\fambrace{184.01}{192.37}
\fambrace{192.37}{193.52}
\node[fam] (f1) at (913,35.47) {Micrococcaceae};
\node[fam] (f2) at (913,75.62) {Brevibacteriaceae};
\node[fam] (f3) at (913,86.9) {Micrococcaceae};
\node[fam] (f4) at (913,110.3) {Microbacteriaceae};
\node[fam] (f5) at (915,138.1) {Streptomycetaceae};
\node[fam] (f6) at (915,155.6) {Nocardiaceae};
\node[fam] (f7) at (914,169.9) {Dietziaceae};
\node[fam] (f8) at (913,181.0) {Micromonosporaceae};
\node[fam] (f9) at (913,189.6) {Propionibacteriaceae};
\node[fam] (f10) at (919,194.4) {Outgroup - \textit{Chloroflexus}};

% scale bar
\coordinate (sbL) at (275,196.7);
\coordinate (sbR) at (435,196.7);
\draw[br] (sbL) -- (sbR);
\node[boot,anchor=north] (sbT) at ($(sbL)!0.5!(sbR)$) [yshift=-1pt] {0.2};
\end{tikzpicture}
\end{document}
